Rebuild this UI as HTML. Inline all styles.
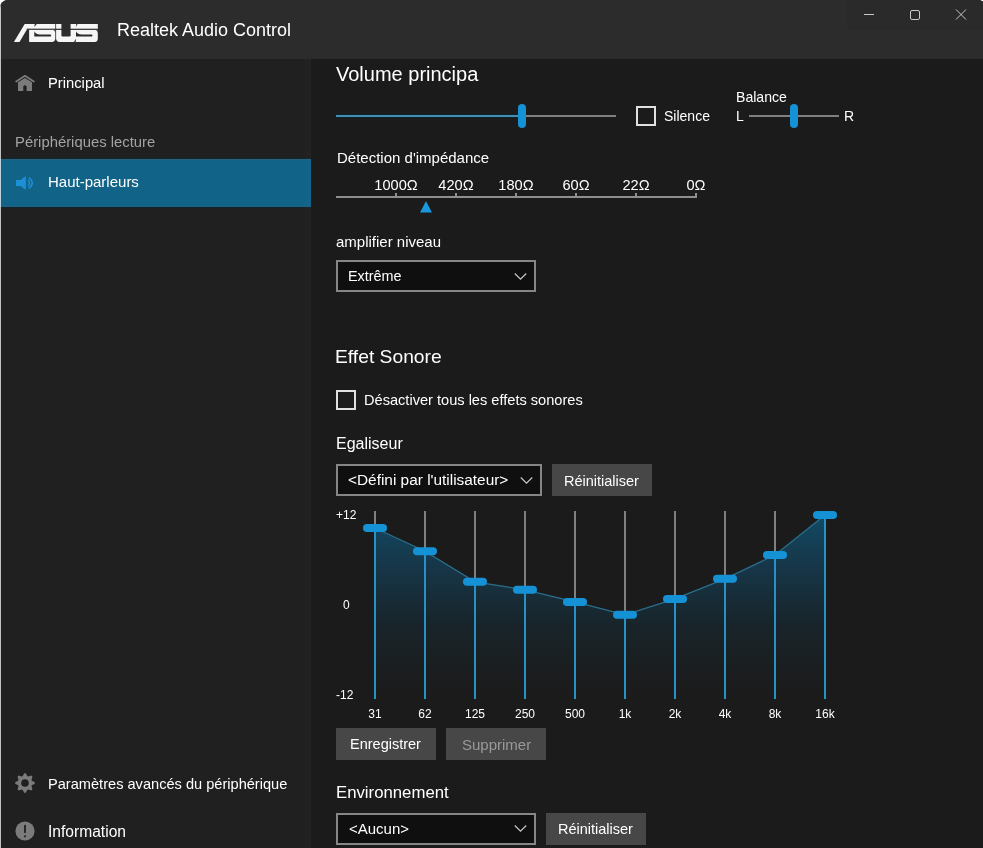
<!DOCTYPE html>
<html><head><meta charset="utf-8"><title>Realtek Audio Control</title>
<style>
*{margin:0;padding:0;box-sizing:border-box}
html,body{width:983px;height:848px;overflow:hidden;background:#ffffff}
body{position:relative;font-family:"Liberation Sans", Arial, sans-serif}
#win{position:absolute;left:0;top:0;width:986px;height:848px;background:#1b1b1b;border-radius:8px 8px 0 0;overflow:hidden}
#titlebar{position:absolute;left:0;top:0;width:983px;height:59px;background:#2c2c2c}
#ctrlbox{position:absolute;left:847px;top:0;width:136px;height:30px;background:#2a2a2a}
#sidebar{position:absolute;left:0;top:59px;width:311px;height:789px;background:#202020}
#sidestrip{position:absolute;left:305px;top:59px;width:6px;height:789px;background:rgba(255,255,255,0.012)}
#sel{position:absolute;left:0;top:159px;width:311px;height:48px;background:#126388;box-shadow:0 -1px 0 #0f2633,0 1px 0 #0e2430,inset 0 1px 0 #28617c,inset 0 -1px 0 #24607a}
#ledge{position:absolute;left:0;top:0;width:1px;height:848px;background:rgba(255,255,255,0.72)}
.t{position:absolute;white-space:pre;font-family:"Liberation Sans", Arial, sans-serif;-webkit-font-smoothing:antialiased;will-change:transform}
.track{position:absolute;height:2px}
.vthumb{position:absolute;width:8px;height:24px;border-radius:4px;background:#1592d6}
.cb{position:absolute;width:20px;height:20px;border:2px solid #e0e0e0}
.dd{position:absolute;border:2px solid #868686;background:#0f0f0f}
.btn{position:absolute;background:#474747}
.chev{position:absolute}
</style></head>
<body><div id="win">
<div id="titlebar"></div>
<div id="ctrlbox"></div>
<svg id="logo" width="100" height="30" viewBox="0 0 100 30" style="position:absolute;left:0;top:15px">
<g transform="translate(0,-15)">
<path d="M13.9,41.9 L24.7,24.1 H97.8 V38.8 Q97.8,41.9 94.7,41.9 Z" fill="#f6f6f6"/>
<g fill="#2c2c2c">
<polygon points="19.5,42 27.3,28.7 29.1,28.7 29.1,42"/>
<rect x="27.3" y="28.7" width="70.6" height="1.2"/>
<path d="M34.3,31.3 Q35.3,34.3 40,34.5 H50.7 Q51.8,35.5 50.7,36.6 H34.3 Z"/>
<path d="M52.8,29.8 H55.4 V33 Q55,30.3 52.8,29.8 Z"/>
<polygon points="34.8,24 36.8,24 34.3,27"/>
<rect x="55.3" y="23.9" width="0.8" height="18.2"/>
<path d="M61.4,23.9 H70.6 V35.2 Q70.6,36.5 69.3,36.5 H62.7 Q61.4,36.5 61.4,35.2 Z"/>
<path d="M76,31.3 Q77,34.3 81.7,34.5 H92 Q93.1,35.5 92,36.6 H76 Z"/>
<path d="M95.2,29.8 H97.9 V33 Q97.5,30.3 95.2,29.8 Z"/>
<polygon points="76.3,24 77.6,24 75.9,27"/>
<path d="M52.6,42 Q55,41.5 55.3,39.2 H56.1 Q56.4,41.5 58.8,42 Z"/>
<polygon points="74,42 75.6,39.2 76.1,39.2 75.6,42"/>
</g>
<rect x="25" y="28.7" width="30" height="0.6" fill="#9a9a9a" opacity="0.6"/>
</g>
</svg>
<div class="t" style="left:117.00px;top:20.96px;font-size:18px;line-height:18px;color:#ffffff;">Realtek Audio Control</div>
<svg style="position:absolute;left:847px;top:0" width="136" height="30" viewBox="0 0 136 30">
<line x1="17" y1="14.5" x2="27" y2="14.5" stroke="#c9c9c9" stroke-width="1"/>
<rect x="63.5" y="10.5" width="9" height="9" rx="1.5" fill="none" stroke="#c9c9c9" stroke-width="1"/>
<path d="M109,9.5 L119,19.5 M119,9.5 L109,19.5" stroke="#c9c9c9" stroke-width="1"/>
</svg>
<div id="sidebar"></div>
<div id="sel"></div>
<div id="sidestrip"></div>
<svg style="position:absolute;left:14px;top:72px" width="22" height="22" viewBox="0 0 22 22">
<path d="M2.2,9.5 L10.95,3.8 L19.8,9.5" fill="none" stroke="#7b7b7b" stroke-width="1.8" stroke-linecap="round" stroke-linejoin="round"/>
<path d="M4,10.3 L10.95,6.0 L18,10.3 V18.9 H12.6 V14.3 Q10.95,12.2 9.3,14.3 V18.9 H4 Z" fill="#7b7b7b"/>
</svg>
<div class="t" style="left:48.00px;top:76.01px;font-size:14.75px;line-height:14.75px;color:#ffffff;">Principal</div>
<div class="t" style="left:15.00px;top:135.03px;font-size:14.85px;line-height:14.85px;color:#a3a3a3;">Périphériques lecture</div>
<svg style="position:absolute;left:14px;top:172px" width="22" height="22" viewBox="0 0 22 22">
<path d="M2,8 H6.6 L11.9,4 V18 L6.6,13.9 H2 Z" fill="#1b8fd8"/>
<path d="M15,5.6 Q21.6,11 15,16.4" fill="none" stroke="#1b8fd8" stroke-width="1.7"/>
<path d="M14,8 Q17,11 14,14" fill="none" stroke="#1b8fd8" stroke-width="1.5"/>
</svg>
<div class="t" style="left:48.20px;top:174.30px;font-size:15px;line-height:15px;color:#ffffff;">Haut-parleurs</div>
<svg style="position:absolute;left:14px;top:772px" width="22" height="22" viewBox="0 0 22 22">
<path d="M8.74,4.06 L10.23,1.23 L11.77,1.23 L13.26,4.06 L14.31,4.50 L17.36,3.55 L18.45,4.64 L17.50,7.69 L17.94,8.74 L20.77,10.23 L20.77,11.77 L17.94,13.26 L17.50,14.31 L18.45,17.36 L17.36,18.45 L14.31,17.50 L13.26,17.94 L11.77,20.77 L10.23,20.77 L8.74,17.94 L7.69,17.50 L4.64,18.45 L3.55,17.36 L4.50,14.31 L4.06,13.26 L1.23,11.77 L1.23,10.23 L4.06,8.74 L4.50,7.69 L3.55,4.64 L4.64,3.55 L7.69,4.50 Z M14.8,11 A3.8,3.8 0 1 0 7.2,11 A3.8,3.8 0 1 0 14.8,11 Z" fill="#7b7b7b" fill-rule="evenodd"/>
</svg>
<div class="t" style="left:48.20px;top:776.94px;font-size:14.6px;line-height:14.6px;color:#ffffff;">Paramètres avancés du périphérique</div>
<svg style="position:absolute;left:14px;top:820px" width="22" height="22" viewBox="0 0 22 22">
<circle cx="11" cy="11" r="9.6" fill="#7b7b7b"/>
<rect x="10.1" y="4.9" width="1.8" height="8" fill="#202020"/>
<rect x="10.1" y="15.4" width="1.8" height="1.8" fill="#202020"/>
</svg>
<div class="t" style="left:48.00px;top:823.69px;font-size:15.6px;line-height:15.6px;color:#ffffff;">Information</div>
<div class="t" style="left:335.50px;top:63.77px;font-size:20px;line-height:20px;color:#ffffff;">Volume principa</div>
<div class="track" style="left:336px;top:115px;width:184px;background:#448eae;box-shadow:0 -1px 0 #0a2230,0 1px 0 #0a2230"></div>
<div class="track" style="left:520px;top:115px;width:96px;background:#808080"></div>
<div class="vthumb" style="left:518px;top:104px"></div>
<div class="cb" style="left:636px;top:106px"></div>
<div class="t" style="left:664.20px;top:108.95px;font-size:14px;line-height:14px;color:#ffffff;">Silence</div>
<div class="t" style="left:736.00px;top:89.76px;font-size:14.1px;line-height:14.1px;color:#ffffff;">Balance</div>
<div class="t" style="left:736.20px;top:108.75px;font-size:14px;line-height:14px;color:#ffffff;">L</div>
<div class="t" style="left:843.80px;top:108.75px;font-size:14px;line-height:14px;color:#ffffff;">R</div>
<div class="track" style="left:749px;top:115px;width:90px;background:#808080"></div>
<div class="vthumb" style="left:790px;top:104px"></div>
<div class="t" style="left:336.60px;top:149.70px;font-size:15px;line-height:15px;color:#ffffff;">Détection d'impédance</div>
<div style="position:absolute;left:336px;top:196px;width:361px;height:2px;background:#8e8e8e"></div>
<div style="position:absolute;left:395px;top:193px;width:2px;height:4px;background:#8e8e8e"></div>
<div class="t" style="left:396.00px;top:178.14px;font-size:14.6px;line-height:14.6px;color:#ffffff;transform:translateX(-50%);">1000Ω</div>
<div style="position:absolute;left:455px;top:193px;width:2px;height:4px;background:#8e8e8e"></div>
<div class="t" style="left:456.00px;top:178.14px;font-size:14.6px;line-height:14.6px;color:#ffffff;transform:translateX(-50%);">420Ω</div>
<div style="position:absolute;left:515px;top:193px;width:2px;height:4px;background:#8e8e8e"></div>
<div class="t" style="left:516.00px;top:178.14px;font-size:14.6px;line-height:14.6px;color:#ffffff;transform:translateX(-50%);">180Ω</div>
<div style="position:absolute;left:575px;top:193px;width:2px;height:4px;background:#8e8e8e"></div>
<div class="t" style="left:576.00px;top:178.14px;font-size:14.6px;line-height:14.6px;color:#ffffff;transform:translateX(-50%);">60Ω</div>
<div style="position:absolute;left:635px;top:193px;width:2px;height:4px;background:#8e8e8e"></div>
<div class="t" style="left:636.00px;top:178.14px;font-size:14.6px;line-height:14.6px;color:#ffffff;transform:translateX(-50%);">22Ω</div>
<div style="position:absolute;left:695px;top:193px;width:2px;height:4px;background:#8e8e8e"></div>
<div class="t" style="left:696.00px;top:178.14px;font-size:14.6px;line-height:14.6px;color:#ffffff;transform:translateX(-50%);">0Ω</div>
<svg style="position:absolute;left:419px;top:200px" width="14" height="14" viewBox="0 0 14 14"><polygon points="7,1 13,12.5 1,12.5" fill="#1b95dc"/></svg>
<div class="t" style="left:336.00px;top:233.60px;font-size:15px;line-height:15px;color:#ffffff;">amplifier niveau</div>
<div class="dd" style="left:336px;top:260px;width:200px;height:32px"></div>
<div class="t" style="left:347.60px;top:268.51px;font-size:14.4px;line-height:14.4px;color:#ffffff;">Extrême</div>
<svg class="chev" style="left:514px;top:271.5px" width="13" height="9" viewBox="0 0 13 9"><path d="M0.8,1.5 L6.5,7.2 L12.2,1.5" fill="none" stroke="#c8c8c8" stroke-width="1.2"/></svg>
<div class="t" style="left:334.80px;top:347.30px;font-size:19.25px;line-height:19.25px;color:#ffffff;">Effet Sonore</div>
<div class="cb" style="left:336px;top:390px"></div>
<div class="t" style="left:364.30px;top:392.54px;font-size:14.6px;line-height:14.6px;color:#ffffff;">Désactiver tous les effets sonores</div>
<div class="t" style="left:336.20px;top:436.06px;font-size:16px;line-height:16px;color:#ffffff;">Egaliseur</div>
<div class="dd" style="left:336px;top:464px;width:206px;height:32px"></div>
<div class="t" style="left:348.40px;top:471.86px;font-size:15.4px;line-height:15.4px;color:#ffffff;">&lt;Défini par l'utilisateur&gt;</div>
<svg class="chev" style="left:519.5px;top:475.7px" width="13" height="9" viewBox="0 0 13 9"><path d="M0.8,1.5 L6.5,7.2 L12.2,1.5" fill="none" stroke="#c8c8c8" stroke-width="1.2"/></svg>
<div class="btn" style="left:552px;top:464px;width:100px;height:32px"></div>
<div class="t" style="left:564.00px;top:473.63px;font-size:14.5px;line-height:14.5px;color:#ffffff;">Réinitialiser</div>
<svg style="position:absolute;left:0;top:0" width="983" height="848" viewBox="0 0 983 848">
<defs><linearGradient id="g" x1="0" y1="511" x2="0" y2="699" gradientUnits="userSpaceOnUse"><stop offset="0" stop-color="#114b66"/><stop offset="0.0745" stop-color="#12465f"/><stop offset="0.234" stop-color="#163a4e"/><stop offset="0.606" stop-color="#18242a"/><stop offset="0.872" stop-color="#1b1d1e"/><stop offset="1" stop-color="#1b1b1b"/></linearGradient></defs>
<polygon points="375,699 375,528 425,551.2 475,581.8 525,589.8 575,601.9 625,614.8 675,598.9 725,578.8 775,554.9 825,515.1 825,699" fill="url(#g)"/>
<polyline points="375,528 425,551.2 475,581.8 525,589.8 575,601.9 625,614.8 675,598.9 725,578.8 775,554.9 825,515.1" fill="none" stroke="#2a6f8e" stroke-width="1.3"/>
<rect x="374" y="511" width="2" height="17.0" fill="#808080"/>
<rect x="374" y="528.0" width="2" height="171.0" fill="#2891c8"/>
<rect x="363" y="524.0" width="24" height="8" rx="4" fill="#1592d6"/>
<rect x="424" y="511" width="2" height="40.2" fill="#808080"/>
<rect x="424" y="551.2" width="2" height="147.8" fill="#2891c8"/>
<rect x="413" y="547.2" width="24" height="8" rx="4" fill="#1592d6"/>
<rect x="474" y="511" width="2" height="70.8" fill="#808080"/>
<rect x="474" y="581.8" width="2" height="117.2" fill="#2891c8"/>
<rect x="463" y="577.8" width="24" height="8" rx="4" fill="#1592d6"/>
<rect x="524" y="511" width="2" height="78.8" fill="#808080"/>
<rect x="524" y="589.8" width="2" height="109.2" fill="#2891c8"/>
<rect x="513" y="585.8" width="24" height="8" rx="4" fill="#1592d6"/>
<rect x="574" y="511" width="2" height="90.9" fill="#808080"/>
<rect x="574" y="601.9" width="2" height="97.1" fill="#2891c8"/>
<rect x="563" y="597.9" width="24" height="8" rx="4" fill="#1592d6"/>
<rect x="624" y="511" width="2" height="103.8" fill="#808080"/>
<rect x="624" y="614.8" width="2" height="84.2" fill="#2891c8"/>
<rect x="613" y="610.8" width="24" height="8" rx="4" fill="#1592d6"/>
<rect x="674" y="511" width="2" height="87.9" fill="#808080"/>
<rect x="674" y="598.9" width="2" height="100.1" fill="#2891c8"/>
<rect x="663" y="594.9" width="24" height="8" rx="4" fill="#1592d6"/>
<rect x="724" y="511" width="2" height="67.8" fill="#808080"/>
<rect x="724" y="578.8" width="2" height="120.2" fill="#2891c8"/>
<rect x="713" y="574.8" width="24" height="8" rx="4" fill="#1592d6"/>
<rect x="774" y="511" width="2" height="43.9" fill="#808080"/>
<rect x="774" y="554.9" width="2" height="144.1" fill="#2891c8"/>
<rect x="763" y="550.9" width="24" height="8" rx="4" fill="#1592d6"/>
<rect x="824" y="511" width="2" height="4.1" fill="#808080"/>
<rect x="824" y="515.1" width="2" height="183.9" fill="#2891c8"/>
<rect x="813" y="511.1" width="24" height="8" rx="4" fill="#1592d6"/>
</svg>
<div class="t" style="left:336.20px;top:508.84px;font-size:12px;line-height:12px;color:#ffffff;">+12</div>
<div class="t" style="left:342.60px;top:598.74px;font-size:12px;line-height:12px;color:#ffffff;">0</div>
<div class="t" style="left:336.20px;top:688.84px;font-size:12px;line-height:12px;color:#ffffff;">-12</div>
<div class="t" style="left:375.00px;top:707.74px;font-size:12px;line-height:12px;color:#ffffff;transform:translateX(-50%);">31</div>
<div class="t" style="left:425.00px;top:707.74px;font-size:12px;line-height:12px;color:#ffffff;transform:translateX(-50%);">62</div>
<div class="t" style="left:475.00px;top:707.74px;font-size:12px;line-height:12px;color:#ffffff;transform:translateX(-50%);">125</div>
<div class="t" style="left:525.00px;top:707.74px;font-size:12px;line-height:12px;color:#ffffff;transform:translateX(-50%);">250</div>
<div class="t" style="left:575.00px;top:707.74px;font-size:12px;line-height:12px;color:#ffffff;transform:translateX(-50%);">500</div>
<div class="t" style="left:625.00px;top:707.74px;font-size:12px;line-height:12px;color:#ffffff;transform:translateX(-50%);">1k</div>
<div class="t" style="left:675.00px;top:707.74px;font-size:12px;line-height:12px;color:#ffffff;transform:translateX(-50%);">2k</div>
<div class="t" style="left:725.00px;top:707.74px;font-size:12px;line-height:12px;color:#ffffff;transform:translateX(-50%);">4k</div>
<div class="t" style="left:775.00px;top:707.74px;font-size:12px;line-height:12px;color:#ffffff;transform:translateX(-50%);">8k</div>
<div class="t" style="left:825.00px;top:707.74px;font-size:12px;line-height:12px;color:#ffffff;transform:translateX(-50%);">16k</div>
<div class="btn" style="left:336px;top:728px;width:100px;height:32px"></div>
<div class="t" style="left:350.40px;top:737.43px;font-size:14.5px;line-height:14.5px;color:#ffffff;">Enregistrer</div>
<div class="btn" style="left:446px;top:728px;width:100px;height:32px"></div>
<div class="t" style="left:462.00px;top:737.00px;font-size:15px;line-height:15px;color:#999999;">Supprimer</div>
<div class="t" style="left:335.60px;top:784.72px;font-size:16.75px;line-height:16.75px;color:#ffffff;">Environnement</div>
<div class="dd" style="left:336px;top:813px;width:200px;height:32px"></div>
<div class="t" style="left:349.20px;top:821.20px;font-size:15px;line-height:15px;color:#ffffff;">&lt;Aucun&gt;</div>
<svg class="chev" style="left:514px;top:824px" width="13" height="9" viewBox="0 0 13 9"><path d="M0.8,1.5 L6.5,7.2 L12.2,1.5" fill="none" stroke="#c8c8c8" stroke-width="1.2"/></svg>
<div class="btn" style="left:546px;top:813px;width:100px;height:32px"></div>
<div class="t" style="left:558.00px;top:822.33px;font-size:14.5px;line-height:14.5px;color:#ffffff;">Réinitialiser</div>
<div id="ledge"></div>
</div></body></html>
